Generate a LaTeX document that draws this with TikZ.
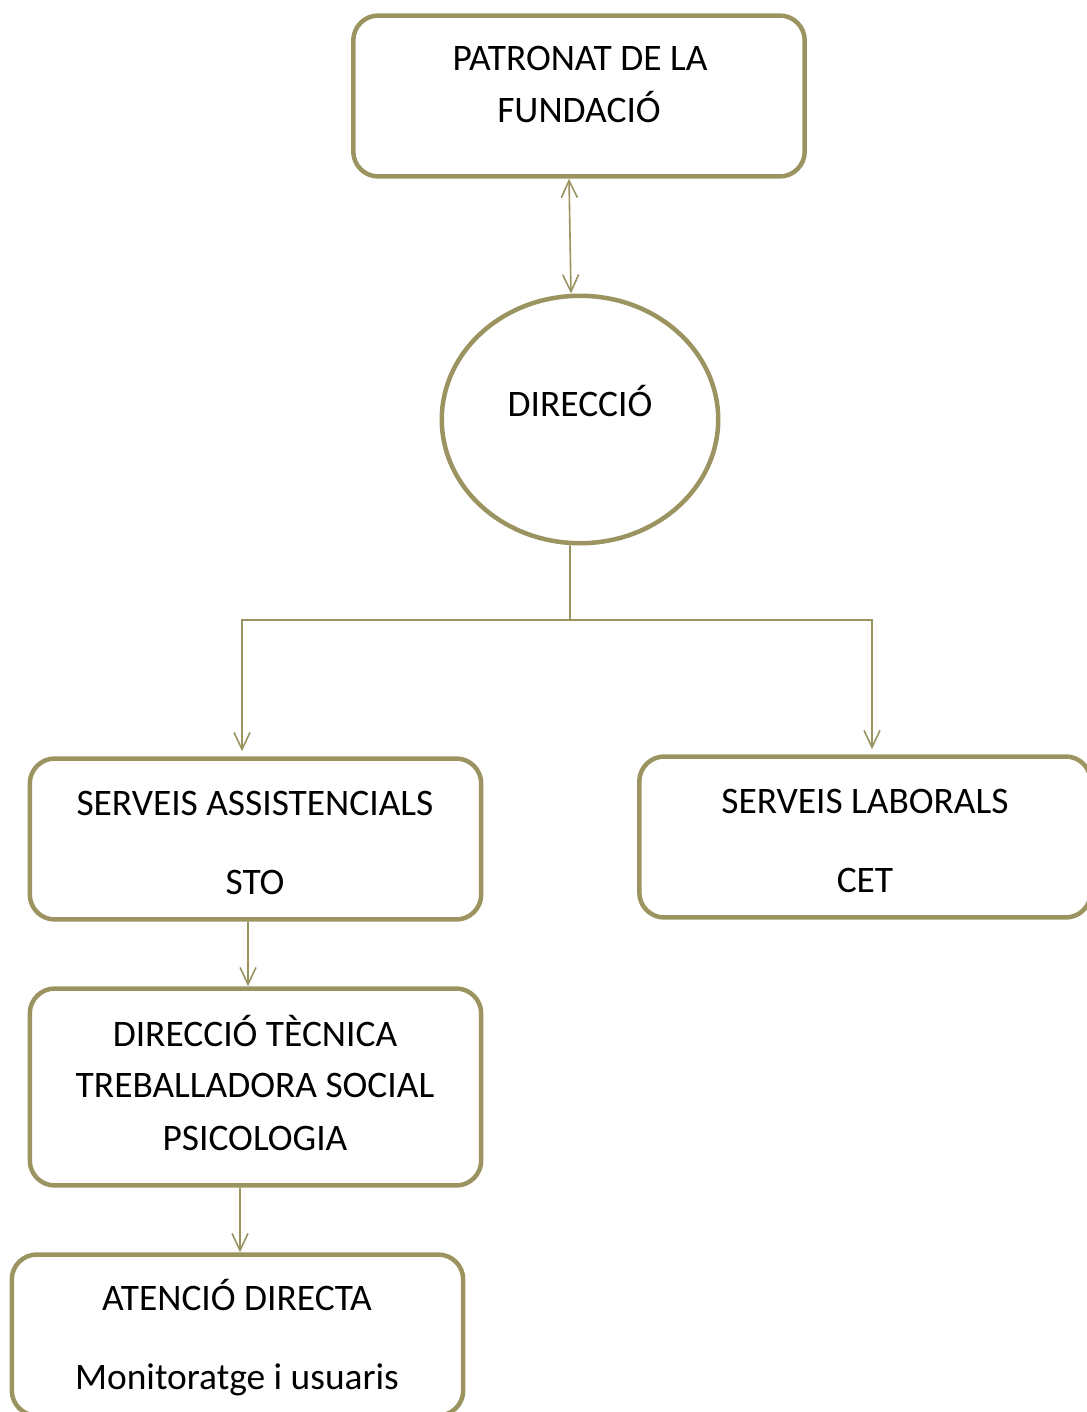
\documentclass[tikz,border=0pt]{standalone}
\usepackage{fontspec}
\setmainfont{Carlito}
\usetikzlibrary{arrows.meta,shapes.geometric,positioning}
\definecolor{olivebox}{RGB}{155,148,96}
\tikzset{
	box/.style={draw=olivebox, line width=0.09cm, rounded corners=0.5cm, minimum width=9.03cm, minimum height=3.22cm, inner sep=0pt},
	oval/.style={draw=olivebox, line width=0.09cm, ellipse, minimum width=5.53cm, minimum height=4.95cm, inner sep=0pt},
	conn/.style={draw=olivebox, line width=0.032cm, -{Straight Barb[length=0.34cm, width=0.32cm]}},
	lbl/.style={anchor=base, inner sep=0pt, font=\fontsize{21.3}{29.6}\selectfont}
}

\begin{document}
\begin{tikzpicture}[x=0.02cm, y=-0.02cm]
		\useasboundingbox (0, 0) rectangle (1087, 1412);
		\clip (0, 0) rectangle (1087, 1412);
		% boxes
		\node[box] (patronat) at (579, 96) {};
		\node[oval] (direccio) at (580, 419.5) {};
		\node[box] (assist) at (255.5, 839) {};
		\node[box] (laborals) at (865, 837) {};
		\node[box, minimum height=3.94cm] (tecnica) at (255.5, 1087) {};
		\node[box] (atencio) at (237.5, 1335) {};
		% texts
		\foreach \n/\x/\y/\t in {1/580/71/PATRONAT DE LA, 2/579/123/FUNDACIÓ, 3/580/416/DIRECCIÓ,
			4/255/815/SERVEIS ASSISTENCIALS, 5/255/894/STO, 6/865/813/SERVEIS LABORALS, 7/865/892/CET,
			8/255/1046/DIRECCIÓ TÈCNICA, 9/255/1097/TREBALLADORA SOCIAL, 10/255/1150/PSICOLOGIA,
			11/237/1310/ATENCIÓ DIRECTA, 12/237/1389/Monitoratge i usuaris} {
			\node[lbl] (t\n) at (\x, \y) {\t};
		};
		% connectors
		\coordinate (split) at (570, 620);
		\draw[conn, {Straight Barb[length=0.34cm, width=0.32cm]}-{Straight Barb[length=0.34cm, width=0.32cm]}] ([xshift=-0.2cm]patronat.south) -- ([xshift=-0.18cm]direccio.north);
		\draw[conn, -] ([xshift=-0.2cm]direccio.south) -- (split);
		\draw[conn, shorten >=0.1cm] (split) -| ([xshift=-0.27cm]assist.north);
		\draw[conn, shorten >=0.1cm] (split) -| ([xshift=0.14cm]laborals.north);
		\draw[conn] ([xshift=-0.15cm]assist.south) -- ([xshift=-0.15cm]tecnica.north);
		\draw[conn] ([xshift=-0.31cm]tecnica.south) -- ([xshift=0.05cm]atencio.north);
	\end{tikzpicture}
\end{document}
